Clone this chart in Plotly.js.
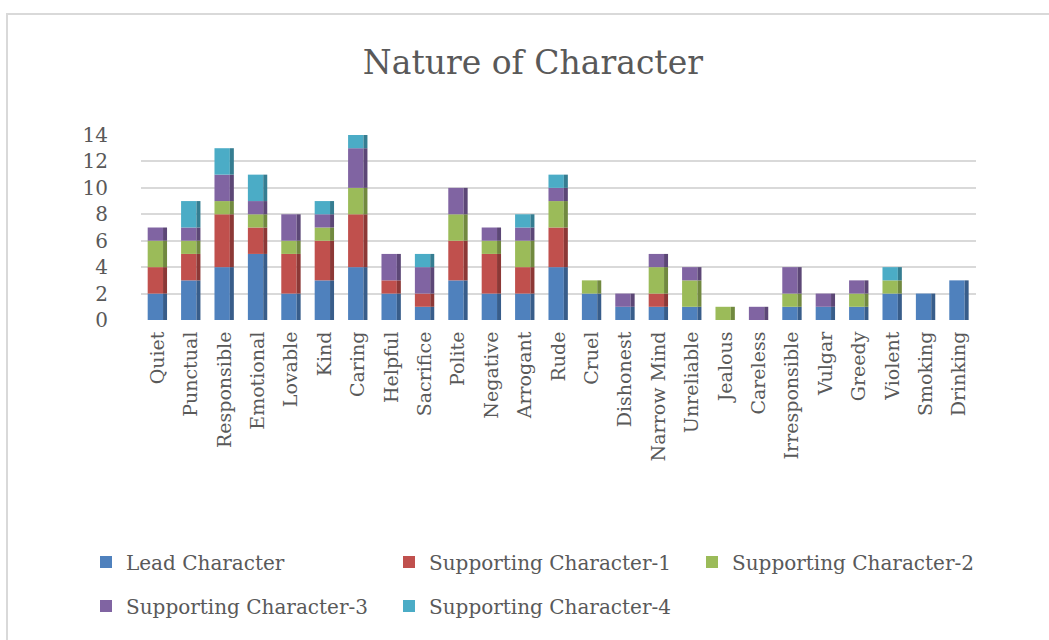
<!DOCTYPE html>
<html>
<head>
<meta charset="utf-8">
<script src="https://cdn.plot.ly/plotly-3.0.1.min.js"></script>
<style>
  html, body { margin: 0; padding: 0; background: #ffffff; }
  #chart { width: 1049px; height: 640px; }
</style>
</head>
<body>
<div id="chart"></div>
<script>
// Traits observed for each character type
const categories = ['Quiet', 'Punctual', 'Responsible', 'Emotional', 'Lovable', 'Kind', 'Caring',
  'Helpful', 'Sacrifice', 'Polite', 'Negative', 'Arrogant', 'Rude', 'Cruel', 'Dishonest',
  'Narrow Mind', 'Unreliable', 'Jealous', 'Careless', 'Irresponsible', 'Vulgar', 'Greedy',
  'Violent', 'Smoking', 'Drinking'];

const leadCharacter   = [2, 3, 4, 5, 2, 3, 4, 2, 1, 3, 2, 2, 4, 2, 1, 1, 1, 0, 0, 1, 1, 1, 2, 2, 3];
const supporting1     = [2, 2, 4, 2, 3, 3, 4, 1, 1, 3, 3, 2, 3, 0, 0, 1, 0, 0, 0, 0, 0, 0, 0, 0, 0];
const supporting2     = [2, 1, 1, 1, 1, 1, 2, 0, 0, 2, 1, 2, 2, 1, 0, 2, 2, 1, 0, 1, 0, 1, 1, 0, 0];
const supporting3     = [1, 1, 2, 1, 2, 1, 3, 2, 2, 2, 1, 1, 1, 0, 1, 1, 1, 0, 1, 2, 1, 1, 0, 0, 0];
const supporting4     = [0, 2, 2, 2, 0, 1, 1, 0, 1, 0, 0, 1, 1, 0, 0, 0, 0, 0, 0, 0, 0, 0, 1, 0, 0];

const seriesNames = ['Lead Character', 'Supporting Character-1', 'Supporting Character-2',
  'Supporting Character-3', 'Supporting Character-4'];
const seriesData = [leadCharacter, supporting1, supporting2, supporting3, supporting4];
const faceColors = ['#4f81bd', '#c0504d', '#9bbb59', '#8064a2', '#4bacc6'];
const sideColors = ['#385d8a', '#8c3836', '#71893f', '#5c4776', '#357d91'];
// first three series in the upper legend row, the rest in the lower one
const legendRow = ['legend', 'legend', 'legend', 'legend2', 'legend2'];

const idx = categories.map((_, i) => i);
const traces = [];
const base = categories.map(() => 0);

seriesData.forEach((vals, s) => {
  const b = base.slice();
  // front face of each stacked segment
  traces.push({
    type: 'bar', x: idx, y: vals, base: b,
    width: 0.46, offset: -0.3,
    marker: { color: faceColors[s], line: { width: 0 } },
    name: seriesNames[s], legend: legendRow[s],
    hoverinfo: 'skip'
  });
  // darker right-hand side for a bit of depth
  traces.push({
    type: 'bar', x: idx, y: vals, base: b,
    width: 0.12, offset: 0.16,
    marker: { color: sideColors[s], line: { width: 0 } },
    name: seriesNames[s], legend: legendRow[s], showlegend: false,
    hoverinfo: 'skip'
  });
  vals.forEach((v, i) => { base[i] += v; });
});

const textGrey = '#595959';
const serif = '"DejaVu Serif", "Liberation Serif", serif';

const legendCommon = {
  orientation: 'h',
  xanchor: 'left', xref: 'paper',
  yanchor: 'middle', yref: 'paper',
  font: { family: serif, size: 20, color: textGrey },
  entrywidth: 258, entrywidthmode: 'pixels',
  itemwidth: 30,
  traceorder: 'normal',
  bgcolor: 'rgba(0,0,0,0)'
};
const legendX = (86 - 141) / 835;

const layout = {
  width: 1049, height: 640,
  paper_bgcolor: '#ffffff', plot_bgcolor: '#ffffff',
  margin: { l: 141, r: 73, t: 135, b: 320, pad: 0 },
  barmode: 'overlay',
  showlegend: true,
  title: {
    text: 'Nature of Character',
    font: { family: serif, size: 33, color: textGrey },
    x: 0.508, xanchor: 'center', xref: 'container',
    y: 1 - 62 / 640, yanchor: 'middle', yref: 'container'
  },
  xaxis: {
    type: 'linear',
    range: [-0.5, categories.length - 0.5],
    tickmode: 'array', tickvals: idx, ticktext: categories,
    tickangle: -90,
    tickfont: { family: serif, size: 19, color: textGrey },
    ticks: 'outside', ticklen: 3, tickcolor: 'rgba(0,0,0,0)',
    showgrid: false, zeroline: false, showline: false,
    fixedrange: true
  },
  yaxis: {
    range: [0, 14],
    tickmode: 'array', tickvals: [0, 2, 4, 6, 8, 10, 12, 14],
    tickfont: { family: serif, size: 20, color: textGrey },
    ticks: 'outside', ticklen: 28, tickcolor: 'rgba(0,0,0,0)',
    showgrid: true, gridcolor: '#d9d9d9', gridwidth: 2,
    zeroline: false, showline: false,
    fixedrange: true
  },
  legend: Object.assign({}, legendCommon, { x: legendX, y: (320 - 562) / 185 }),
  legend2: Object.assign({}, legendCommon, { x: legendX, y: (320 - 606) / 185 }),
  shapes: [{
    type: 'rect', xref: 'paper', yref: 'paper',
    x0: (7 - 141) / 835, x1: (1080 - 141) / 835,
    y0: (320 - 680) / 185, y1: (320 - 14) / 185,
    line: { color: '#d9d9d9', width: 2 }, fillcolor: 'rgba(0,0,0,0)',
    layer: 'below'
  }]
};

Plotly.newPlot('chart', traces, layout, { displayModeBar: false, staticPlot: true });
</script>
</body>
</html>
